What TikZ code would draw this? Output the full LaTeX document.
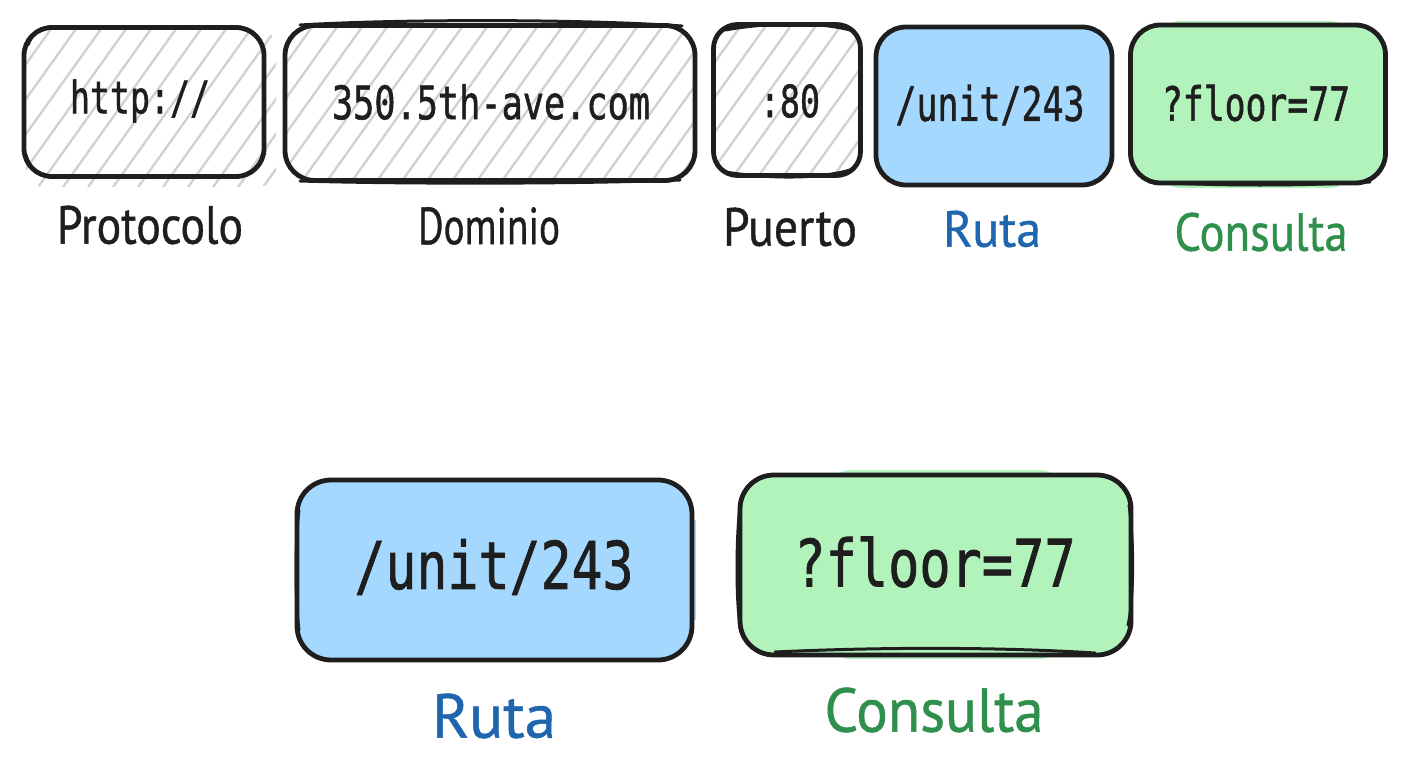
\documentclass[tikz,border=0pt]{standalone}
\usepackage{fontspec}
\usepackage{graphicx}
\newfontfamily\codefont[FakeBold=1.3]{DejaVu Sans Mono}
\newfontfamily\handfont[FakeBold=0.8]{PT Sans}
\definecolor{ink}{HTML}{1E1E1E}
\definecolor{hatchc}{HTML}{CDD3DA}
\definecolor{bluefill}{HTML}{A5D8FF}
\definecolor{greenfill}{HTML}{B2F2BB}
\definecolor{bluetext}{HTML}{1F66AE}
\definecolor{greentext}{HTML}{2F8F4C}
\tikzset{
  sk/.style={draw=ink,line width=4.8pt,line cap=round,line join=round},
  skthin/.style={draw=ink,line width=3pt,line cap=round},
  skbox/.style={sk,rounded corners=28pt,inner sep=0pt,text=ink,fill=#1},
  skbox/.default=none,
  hatchline/.style={draw=hatchc,line width=2.4pt},
  captext/.style={inner sep=0pt,text=ink},
  codetext/.style={inner sep=0pt,text=ink}
}
% hatch: x1 y1 x2 y2 (clip region)
\newcommand{\hatchfill}[4]{%
  \begin{scope}
    \clip[rounded corners=18pt] (#1,#2) rectangle (#3,#4);
    \pgfmathsetmacro{\hh}{#4-#2}
    \pgfmathsetmacro{\dd}{\hh/1.4}
    \pgfmathsetmacro{\st}{#1-\dd}
    \pgfmathsetmacro{\nx}{\st+25}
    \foreach \hx in {\st,\nx,...,#3}{
      \draw[hatchline] (\hx,#4) -- ++(\dd,-\hh);
    }
  \end{scope}}
\newcommand{\codetxt}[3]{\resizebox{#1pt}{#2pt}{\codefont #3}}
\newcommand{\handtxt}[3]{\resizebox{#1pt}{#2pt}{\handfont #3}}
\begin{document}
\begin{tikzpicture}[x=1pt,y=-1pt]
\useasboundingbox (0,0) rectangle (1408,768);
\fill[white] (0,0) rectangle (1408,768);

% hatching
\hatchfill{26}{29}{276}{187}
\hatchfill{287}{27}{693}{179}
\hatchfill{715}{27}{859}{175}

% soft fill overshoot
\fill[greenfill,rounded corners=20pt] (1160,21) rectangle (1350,188);
\fill[greenfill,rounded corners=20pt] (830,470) rectangle (1060,659);
\fill[bluefill] (680,520) rectangle (696,620);

% top row
\node[skbox,minimum width=240pt,minimum height=149pt] (proto) at (144,102) {};
\node[skbox,minimum width=410pt,minimum height=155pt,rounded corners=30pt] (dom) at (490,103) {};
\node[skbox,minimum width=147pt,minimum height=151pt,rounded corners=24pt] (port) at (787,100) {};
\node[skbox=bluefill,minimum width=236pt,minimum height=158pt,rounded corners=30pt] (ruta) at (994,106) {};
\node[skbox=greenfill,minimum width=255pt,minimum height=158pt,rounded corners=30pt] (cons) at (1258,104) {};

\node[codetext] (tproto) at (140,101) {\codetxt{140}{34}{http://}};
\node[codetext] (tdom) at (491,102) {\codetxt{318}{35}{350.5th-ave.com}};
\node[codetext] (tport) at (790,101) {\codetxt{60}{33}{:80}};
\node[codetext] (truta) at (990,105) {\codetxt{189}{36}{/unit/243}};
\node[codetext] (tcons) at (1256,103) {\codetxt{188}{36}{?floor=77}};

% bottom row
\node[skbox=bluefill,minimum width=395pt,minimum height=180pt,rounded corners=34pt] (ruta2) at (494.5,570) {};
\node[skbox=greenfill,minimum width=391pt,minimum height=180pt,rounded corners=34pt] (cons2) at (935.5,565) {};
\node[codetext] (truta2) at (494,567) {\codetxt{279}{50}{/unit/243}};
\node[codetext] (tcons2) at (935,562) {\codetxt{281}{50}{?floor=77}};

% sketch over-strokes
\draw[skthin] (300,25) .. controls (400,19) and (580,19) .. (682,26);
\draw[skthin] (300,181) .. controls (400,184) and (580,184) .. (680,180);
\draw[skthin] (28,45) .. controls (33,32) and (40,27) .. (52,27);
\draw[skthin] (26,155) .. controls (30,170) and (40,176) .. (55,176);
\draw[skthin] (240,27) .. controls (255,30) and (260,38) .. (263,50);
\draw[skthin] (725,172) .. controls (770,179) and (820,179) .. (850,170);
\draw[skthin] (725,30) .. controls (770,22) and (820,22) .. (850,30);
\draw[skthin] (1150,182) .. controls (1220,186) and (1300,186) .. (1370,182);
\draw[skthin] (299,510) .. controls (295,540) and (295,600) .. (299,630);
\draw[skthin] (740,505) .. controls (736,540) and (736,600) .. (740,625);
\draw[skthin] (1129,505) .. controls (1134,540) and (1134,600) .. (1128,625);
\draw[skthin] (775,652) .. controls (880,647) and (1000,647) .. (1095,653);

% captions
\node[captext] (lproto) at (150,225) {\handtxt{186}{38}{Protocolo}};
\node[captext] (ldom) at (489,226) {\handtxt{142}{37}{Dominio}};
\node[captext] (lport) at (790,227) {\handtxt{134}{38}{Puerto}};
\node[captext,text=bluetext] (lruta) at (992,229) {\handtxt{98}{36}{Ruta}};
\node[captext,text=greentext] (lcons) at (1261,232) {\handtxt{173}{38}{Consulta}};
\node[captext,text=bluetext] (lruta2) at (494,716) {\handtxt{124}{44}{Ruta}};
\node[captext,text=greentext] (lcons2) at (934,710) {\handtxt{219}{44}{Consulta}};
\end{tikzpicture}
\end{document}
